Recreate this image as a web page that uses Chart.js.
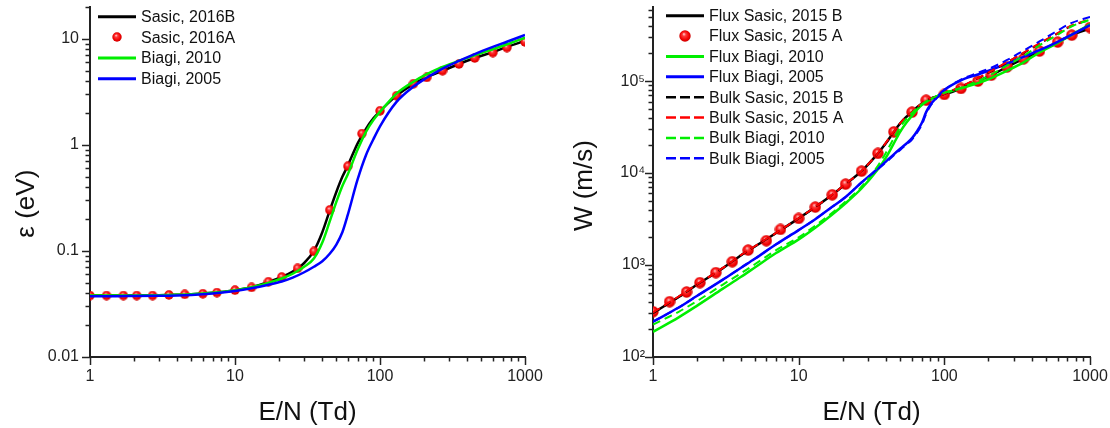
<!DOCTYPE html>
<html>
<head>
<meta charset="utf-8">
<script src="https://cdn.jsdelivr.net/npm/chart.js@4"></script>
<style>
  html, body { margin: 0; padding: 0; background: #fff; }
  #wrap { position: relative; width: 1110px; height: 428px; }
  canvas { position: absolute; top: 0; }
  #epsChart { left: 0; }
  #driftChart { left: 560px; }
</style>
</head>
<body>
<div id="wrap">
  <canvas id="epsChart" width="560" height="428"></canvas>
  <canvas id="driftChart" width="550" height="428"></canvas>
</div>
<script>
// E/N grid of the Sasic A points (both panels)
const dotEN = [1, 1.3, 1.7, 2.1, 2.7, 3.5, 4.5, 6, 7.5, 10, 13, 17, 21, 27, 35, 45, 60, 75, 100, 130, 170, 210, 270, 350, 450, 600, 750, 1000];

// left panel: mean energy (eV)
const epsSasicA = [0.038, 0.038, 0.038, 0.038, 0.038, 0.0385, 0.039, 0.0395, 0.0405, 0.0427, 0.0453, 0.0513, 0.0568, 0.0686, 0.099, 0.244, 0.63, 1.28, 2.10, 2.91, 3.78, 4.33, 5.01, 5.8, 6.6, 7.43, 8.28, 9.37];
const epsEN = [1, 1.5, 2, 3, 4, 5, 7, 10, 13, 17, 21, 25, 30, 35, 40, 45, 50, 55, 60, 70, 80, 90, 100, 130, 170, 210, 270, 350, 450, 600, 750, 1000];
const epsSasicB = [0.038, 0.038, 0.038, 0.0382, 0.0386, 0.039, 0.0403, 0.0427, 0.0455, 0.051, 0.057, 0.064, 0.077, 0.100, 0.15, 0.24, 0.36, 0.50, 0.64, 1.03, 1.42, 1.78, 2.08, 2.92, 3.75, 4.35, 5.0, 5.8, 6.6, 7.5, 8.4, 9.6];
const epsBiagi2010 = [0.038, 0.038, 0.038, 0.0382, 0.0386, 0.039, 0.0403, 0.0427, 0.0455, 0.050, 0.055, 0.061, 0.071, 0.085, 0.12, 0.19, 0.29, 0.41, 0.53, 0.90, 1.33, 1.72, 2.05, 3.05, 3.95, 4.65, 5.45, 6.2, 7.0, 8.0, 8.9, 10.3];
const epsBiagi2005 = [0.0375, 0.0375, 0.0376, 0.0378, 0.038, 0.0385, 0.0398, 0.042, 0.0445, 0.048, 0.0515, 0.056, 0.063, 0.071, 0.080, 0.094, 0.115, 0.15, 0.22, 0.47, 0.80, 1.13, 1.5, 2.55, 3.55, 4.3, 5.25, 6.2, 7.2, 8.4, 9.4, 10.9];

// right panel: drift velocity (m/s)
const wFluxSasicA = [311, 399, 509, 643, 826, 1087, 1455, 1838, 2440, 3215, 4270, 5810, 7590, 10500, 16400, 28100, 46000, 62000, 71600, 83200, 100000, 116000, 143000, 175000, 212000, 266000, 316000, 383000];
const wEN = [1, 1.5, 2, 3, 4, 5, 7, 10, 13, 17, 21, 27, 35, 40, 45, 50, 55, 60, 65, 70, 75, 80, 90, 100, 130, 170, 210, 270, 350, 450, 600, 750, 1000];
const wFluxSasicB = [300, 450, 610, 920, 1270, 1590, 2230, 3215, 4270, 5810, 7590, 10500, 16400, 21500, 28100, 35000, 41000, 46000, 52000, 57000, 62000, 64500, 68500, 71600, 83200, 100000, 116000, 143000, 175000, 212000, 266000, 316000, 375000];
const wFluxBiagi2010 = [188, 270, 360, 550, 740, 940, 1350, 1900, 2550, 3550, 4700, 6800, 11000, 15000, 21000, 28500, 35500, 42000, 49000, 55000, 59500, 63000, 69000, 74000, 83500, 95000, 108000, 130000, 160000, 205000, 260000, 320000, 415000];
const wFluxBiagi2005 = [242, 345, 460, 690, 930, 1170, 1680, 2400, 3150, 4300, 5500, 7900, 11200, 13500, 16000, 18500, 21000, 24000, 28500, 35000, 46000, 55000, 68000, 80000, 102000, 118000, 133000, 155000, 184000, 217000, 268000, 320000, 406000];
const wBulkSasicB = [300, 450, 610, 920, 1270, 1590, 2230, 3215, 4270, 5810, 7590, 10500, 16400, 21500, 28100, 35000, 41000, 46000, 52000, 57000, 62000, 64500, 68500, 72500, 87000, 107000, 128000, 160000, 202000, 255000, 330000, 400000, 465000];
const wBulkSasicA = [305, 455, 615, 925, 1280, 1600, 2240, 3230, 4290, 5830, 7620, 10550, 16500, 21700, 28300, 35200, 41200, 46200, 52200, 57200, 62200, 64700, 68800, 73000, 87500, 107500, 129000, 161000, 204000, 257000, 333000, 403000, 470000];
const wBulkBiagi2010 = [225, 310, 405, 610, 810, 1020, 1450, 2000, 2680, 3700, 4900, 7100, 12000, 17000, 24000, 32000, 39000, 45000, 51000, 56000, 60000, 63500, 69500, 74500, 85000, 100000, 118000, 148000, 188000, 245000, 320000, 395000, 465000];
const wBulkBiagi2005 = [242, 345, 460, 690, 930, 1170, 1680, 2400, 3150, 4300, 5500, 7900, 11000, 13200, 15600, 18000, 20500, 23200, 27500, 33500, 44000, 53500, 67000, 80000, 104000, 123000, 140000, 170000, 215000, 270000, 355000, 430000, 500000];

const FONT = '"Liberation Sans", Arial, sans-serif';
const AXIS_COLOR = '#222';

function pts(xs, ys) {
    return xs.map((x, i) => ({x: x, y: ys[i]}));
}

function isDecade(v) {
    const e = Math.log10(v);
    return Math.abs(e - Math.round(e)) < 1e-9;
}

// only 1..9 x 10^n get a tick mark (the log scale also makes 1.5, 15 ...)
function isWholeStep(v) {
    const m = v / Math.pow(10, Math.floor(Math.log10(v) + 1e-9));
    return Math.abs(m - Math.round(m)) < 1e-6;
}

const SUP = {'-': '\u207B', '0': '\u2070', '1': '\u00B9', '2': '\u00B2', '3': '\u00B3', '4': '\u2074', '5': '\u2075', '6': '\u2076', '7': '\u2077', '8': '\u2078', '9': '\u2079'};

function plainLabel(v) {
    return isDecade(v) ? String(Number(v.toPrecision(6))) : '';
}

function powLabel(v) {
    if (!isDecade(v)) return '';
    const e = String(Math.round(Math.log10(v)));
    return '10' + e.split('').map(c => SUP[c]).join('');
}

// shaded red ball used for the Sasic A points
function makeBall(size) {
    const c = document.createElement('canvas');
    c.width = size;
    c.height = size;
    const g = c.getContext('2d');
    const r = size / 2;
    const grad = g.createRadialGradient(r * 0.8, r * 0.65, 0, r, r, r);
    grad.addColorStop(0, '#ffe0e0');
    grad.addColorStop(0.3, '#ff3a3a');
    grad.addColorStop(0.75, '#f00000');
    grad.addColorStop(1, '#c40000');
    g.fillStyle = grad;
    g.beginPath();
    g.arc(r, r, r - 0.3, 0, Math.PI * 2);
    g.fill();
    return c;
}

const ballSmall = makeBall(10);
const ballBig = makeBall(12);

// outward major / minor tick marks, Origin style
const axisTicks = {
    id: 'axisTicks',
    afterDraw(chart) {
        const ctx = chart.ctx;
        ctx.save();
        ctx.strokeStyle = AXIS_COLOR;
        ctx.lineWidth = 1.5;
        ['x', 'y'].forEach(id => {
            const s = chart.scales[id];
            s.ticks.forEach(t => {
                if (!isWholeStep(t.value)) return;
                const len = isDecade(t.value) ? 8 : 4.5;
                const p = Math.round(s.getPixelForValue(t.value)) + 0.5;
                ctx.beginPath();
                if (s.isHorizontal()) {
                    ctx.moveTo(p, s.top);
                    ctx.lineTo(p, s.top + len);
                } else {
                    ctx.moveTo(s.right, p);
                    ctx.lineTo(s.right - len, p);
                }
                ctx.stroke();
            });
        });
        ctx.restore();
    }
};

// legend drawn inside the plot, top-left, one row per dataset
const legendBox = {
    id: 'legendBox',
    afterDatasetsDraw(chart, args, opts) {
        const ctx = chart.ctx;
        ctx.save();
        ctx.font = '16px ' + FONT;
        ctx.textBaseline = 'middle';
        chart.data.datasets.forEach((ds, i) => {
            const y = opts.top + i * opts.rowHeight;
            const x0 = opts.left;
            const x1 = x0 + opts.lineLength;
            if (ds.showLine === false) {
                const b = ds.pointStyle;
                ctx.drawImage(b, Math.round((x0 + x1) / 2 - b.width / 2), Math.round(y - b.height / 2));
            } else {
                ctx.strokeStyle = ds.borderColor;
                ctx.lineWidth = ds.borderDash ? 2.5 : 3;
                ctx.setLineDash(ds.borderDash ? [10, 4] : []);
                ctx.beginPath();
                ctx.moveTo(x0, y);
                ctx.lineTo(x1, y);
                ctx.stroke();
                ctx.setLineDash([]);
            }
            ctx.fillStyle = '#111';
            ctx.fillText(ds.label, x1 + opts.gap, y + 1);
        });
        ctx.restore();
    }
};

function lineSet(label, xs, ys, color, order, dashed) {
    return {
        label: label,
        data: pts(xs, ys),
        showLine: true,
        borderColor: color,
        backgroundColor: color,
        borderWidth: dashed ? 2 : 2.5,
        borderDash: dashed ? [8, 5] : undefined,
        pointRadius: 0,
        cubicInterpolationMode: 'monotone',
        order: order
    };
}

function dotSet(label, xs, ys, ball, order) {
    return {
        label: label,
        data: pts(xs, ys),
        showLine: false,
        pointStyle: ball,
        pointRadius: ball.width / 2,
        borderColor: '#ff0000',
        backgroundColor: '#ff0000',
        order: order
    };
}

function buildOptions(o) {
    return {
        responsive: false,
        animation: false,
        layout: {padding: {top: 7, right: o.padRight, left: 0, bottom: 0}},
        plugins: {
            legend: {display: false},
            tooltip: {enabled: false},
            legendBox: o.legend
        },
        scales: {
            x: {
                type: 'logarithmic',
                min: 1,
                max: 1000,
                border: {display: true, color: AXIS_COLOR, width: 2},
                grid: {display: true, drawOnChartArea: false, drawTicks: false},
                ticks: {
                    autoSkip: false,
                    maxRotation: 0,
                    padding: 10,
                    color: AXIS_COLOR,
                    font: {family: FONT, size: 16},
                    callback: v => plainLabel(v)
                },
                title: {
                    display: true,
                    text: 'E/N (Td)',
                    color: '#111',
                    font: {family: FONT, size: 26},
                    padding: {top: 0, bottom: 0}
                },
                afterFit(s) {
                    s.height = 71;
                    s.paddingLeft = 0;
                    s.paddingRight = 0;
                }
            },
            y: {
                type: 'logarithmic',
                min: o.yMin,
                max: o.yMax,
                border: {display: true, color: AXIS_COLOR, width: 2},
                grid: {display: true, drawOnChartArea: false, drawTicks: false},
                ticks: {
                    autoSkip: false,
                    padding: o.yLabelPad,
                    color: AXIS_COLOR,
                    font: {family: FONT, size: 16},
                    callback: o.yLabel
                },
                title: {
                    display: true,
                    text: o.yTitle,
                    color: '#111',
                    font: {family: FONT, size: 26},
                    padding: {top: o.yTitlePad, bottom: 0}
                },
                afterFit(s) {
                    s.width = o.yWidth;
                    s.paddingTop = 0;
                    s.paddingBottom = 0;
                }
            }
        }
    };
}

new Chart(document.getElementById('epsChart'), {
    type: 'scatter',
    data: {
        datasets: [
            lineSet('Sasic, 2016B', epsEN, epsSasicB, '#000000', 3, false),
            dotSet('Sasic, 2016A', dotEN, epsSasicA, ballSmall, 2),
            lineSet('Biagi, 2010', epsEN, epsBiagi2010, '#00ee00', 1, false),
            lineSet('Biagi, 2005', epsEN, epsBiagi2005, '#0000ff', 0, false)
        ]
    },
    options: buildOptions({
        padRight: 35,
        yMin: 0.01,
        yMax: 20,
        yWidth: 90,
        yLabelPad: 11,
        yLabel: v => plainLabel(v),
        // trailing spaces push the rotated title a little lower, as in the original
        yTitle: '\u03B5 (eV)      ',
        yTitlePad: 11,
        legend: {left: 98, top: 16.7, rowHeight: 20.67, lineLength: 38, gap: 5}
    }),
    plugins: [axisTicks, legendBox]
});

new Chart(document.getElementById('driftChart'), {
    type: 'scatter',
    data: {
        datasets: [
            lineSet('Flux Sasic, 2015 B', wEN, wFluxSasicB, '#000000', 7, false),
            dotSet('Flux Sasic, 2015 A', dotEN, wFluxSasicA, ballBig, 6),
            lineSet('Flux Biagi, 2010', wEN, wFluxBiagi2010, '#00ee00', 5, false),
            lineSet('Flux Biagi, 2005', wEN, wFluxBiagi2005, '#0000ff', 4, false),
            lineSet('Bulk Sasic, 2015 B', wEN, wBulkSasicB, '#000000', 3, true),
            lineSet('Bulk Sasic, 2015 A', wEN, wBulkSasicA, '#ff0000', 2, true),
            lineSet('Bulk Biagi, 2010', wEN, wBulkBiagi2010, '#00ee00', 1, true),
            lineSet('Bulk Biagi, 2005', wEN, wBulkBiagi2005, '#0000ff', 0, true)
        ]
    },
    options: buildOptions({
        padRight: 20,
        yMin: 100,
        yMax: 640000,
        yWidth: 93,
        yLabelPad: 8,
        yLabel: v => powLabel(v),
        yTitle: 'W (m/s) ',
        yTitlePad: 9,
        legend: {left: 106, top: 15.7, rowHeight: 20.37, lineLength: 38, gap: 5}
    }),
    plugins: [axisTicks, legendBox]
});
</script>
</body>
</html>
